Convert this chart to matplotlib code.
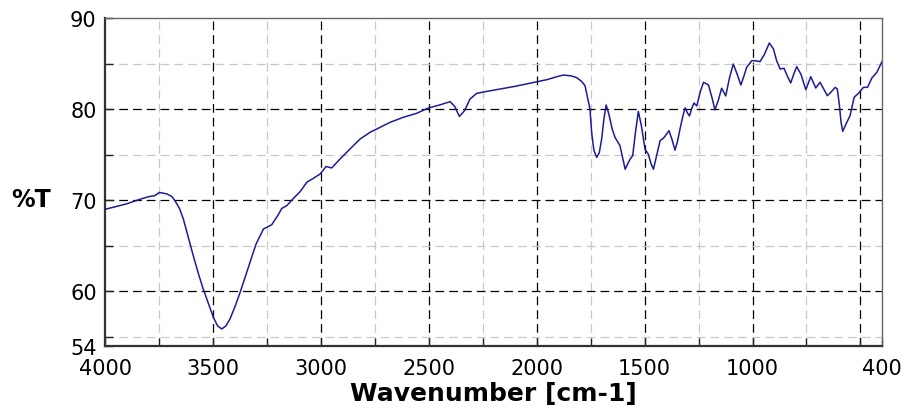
import matplotlib
matplotlib.use("Agg")
import matplotlib.pyplot as plt
from matplotlib.ticker import FixedLocator

# IR spectrum (wavenumber in cm-1, transmittance in %)
wavenumber = [
    4000, 3950, 3900, 3838, 3796, 3770, 3748, 3714, 3690, 3676, 3655, 3637,
    3615, 3591, 3568, 3545, 3520, 3498, 3478, 3459, 3440, 3421, 3398, 3374,
    3350, 3328, 3300, 3266, 3228, 3200, 3181, 3158, 3127, 3096, 3065, 3035,
    3003, 2976, 2950, 2911, 2865, 2818, 2772, 2726, 2679, 2618, 2556, 2502,
    2450, 2401, 2380, 2358, 2335, 2309, 2278, 2230, 2170, 2100, 2000, 1953,
    1900, 1876, 1840, 1814, 1790, 1776, 1760, 1753, 1745, 1735, 1722, 1710,
    1699, 1688, 1678, 1665, 1650, 1637, 1614, 1603, 1590, 1578, 1567, 1555,
    1542, 1529, 1515, 1498, 1483, 1470, 1459, 1445, 1428, 1413, 1400, 1387,
    1372, 1359, 1348, 1336, 1322, 1312, 1302, 1292, 1281, 1271, 1258, 1242,
    1227, 1215, 1204, 1187, 1174, 1158, 1143, 1124, 1106, 1089, 1072, 1054,
    1040, 1027, 1003, 985, 965, 945, 922, 903, 888, 872, 854, 838,
    823, 808, 795, 775, 753, 730, 707, 687, 670, 653, 635, 617,
    607, 597, 590, 582, 563, 548, 529, 509, 486, 467, 447, 424, 400,
]
transmittance = [
    69.0, 69.3, 69.6, 70.1, 70.4, 70.5, 70.85, 70.7, 70.4, 69.95, 69.1, 67.94,
    66.0, 63.91, 62.0, 60.26, 58.6, 57.15, 56.2, 55.87, 56.2, 56.96, 58.3, 59.89,
    61.6, 63.19, 65.2, 66.84, 67.3, 68.3, 69.1, 69.4, 70.2, 70.94, 71.97, 72.4,
    72.88, 73.7, 73.54, 74.52, 75.62, 76.72, 77.45, 78.0, 78.55, 79.1, 79.54, 80.12,
    80.45, 80.82, 80.3, 79.2, 79.8, 81.1, 81.73, 81.95, 82.2, 82.5, 83.0, 83.23,
    83.6, 83.74, 83.65, 83.45, 83.0, 82.57, 80.8, 80.0, 77.4, 75.5, 74.7, 75.2,
    76.7, 79.0, 80.45, 79.4, 77.8, 76.9, 75.99, 74.8, 73.4, 74.0, 74.5, 74.9,
    77.5, 79.75, 78.2, 75.6, 75.07, 74.0, 73.4, 74.8, 76.55, 76.8, 77.2, 77.63,
    76.6, 75.5, 76.4, 77.8, 79.3, 80.15, 79.6, 79.25, 80.1, 80.67, 80.35, 81.9,
    82.94, 82.8, 82.65, 81.2, 79.92, 81.0, 82.29, 81.45, 83.5, 84.95, 83.9, 82.65,
    83.6, 84.59, 85.32, 85.3, 85.21, 86.0, 87.26, 86.6, 85.3, 84.4, 84.48, 83.6,
    82.87, 83.9, 84.66, 83.8, 82.13, 83.56, 82.32, 82.94, 82.2, 81.47, 81.9, 82.39,
    82.2, 80.37, 78.6, 77.56, 78.55, 79.28, 81.3, 81.74, 82.39, 82.39, 83.41, 84.04, 85.2,
]

x_ticks = [4000, 3500, 3000, 2500, 2000, 1500, 1000, 400]
y_ticks = [54, 60, 70, 80, 90]

plt.rcParams["font.family"] = ["DejaVu Sans"]

fig = plt.figure(figsize=(9.08, 4.10), dpi=100)
ax = fig.add_axes([105 / 908, 63 / 410, 777 / 908, 328 / 410])

ax.plot(wavenumber, transmittance, color="#1c1c96", lw=1.1, zorder=3)

ax.set_xlim(4000, 400)
ax.set_ylim(54, 90)

ax.set_xticks(x_ticks)
ax.xaxis.set_minor_locator(FixedLocator(list(range(3750, 400, -250))))
ax.set_yticks(y_ticks)
ax.yaxis.set_minor_locator(FixedLocator([55, 65, 75, 85]))

# major grid every 500 / 10, light minor grid in between
for v in range(3500, 400, -500):
    ax.axvline(v, color="black", lw=0.9, dashes=(7, 4), zorder=1)
for v in range(3750, 400, -500):
    ax.axvline(v, color="#c8c8c8", lw=0.9, dashes=(7, 4), zorder=1)
for v in [60, 70, 80]:
    ax.axhline(v, color="black", lw=0.9, dashes=(7, 4), zorder=1)
for v in [55, 65, 75, 85]:
    ax.axhline(v, color="#c8c8c8", lw=0.9, dashes=(7, 4), zorder=1)

ax.tick_params(axis="both", which="both", direction="in", length=6,
               width=1, color="#222222", labelsize=15)
ax.tick_params(axis="x", which="both", pad=9, top=False)
ax.tick_params(axis="y", which="both", pad=6, right=False)

for side in ["left", "bottom"]:
    ax.spines[side].set_linewidth(1.6)
    ax.spines[side].set_color("#333333")
for side in ["top", "right"]:
    ax.spines[side].set_linewidth(1.0)
    ax.spines[side].set_color("#666666")

ax.set_xlabel("Wavenumber [cm-1]", fontsize=18, fontweight="bold", labelpad=2)
fig.text(31 / 908, 1 - 200 / 410, "%T", fontsize=17, fontweight="bold",
         ha="center", va="center")

fig.savefig("out.png", dpi=100)
